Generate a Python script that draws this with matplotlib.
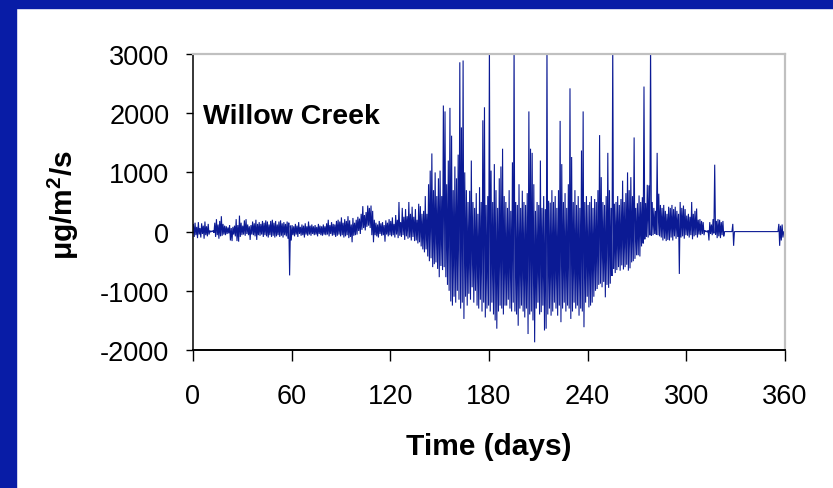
import numpy as np
import matplotlib
matplotlib.use("Agg")
import matplotlib.pyplot as plt
from matplotlib.patches import Rectangle

plt.rcParams["font.family"] = ["Liberation Sans", "DejaVu Sans"]
plt.rcParams["mathtext.fontset"] = "custom"
plt.rcParams["mathtext.bf"] = "Liberation Sans:bold"
plt.rcParams["mathtext.rm"] = "Liberation Sans"
plt.rcParams["axes.unicode_minus"] = False

# ── Data: daily max (hi) and min (lo) flux ────────────────────────────────
DAY_START = 0
FLUX_HI = [
    120, 150, 80, 160, 60, 140, 100, 170, 90, 130,          # 0
    20, 10, 20, 150, 210, 120, 180, 260, 130, 100,          # 10
    90, 70, 110, 60, 80, 100, 210, 110, 270, 150,           # 20
    100, 190, 210, 120, 90, 110, 170, 140, 200, 130,        # 30
    160, 130, 180, 150, 190, 170, 120, 180, 200, 150,       # 40
    180, 120, 170, 190, 140, 160, 130, 170, 150, 100,       # 50
    110, 90, 130, 100, 160, 80, 120, 100, 140, 90,          # 60
    170, 100, 120, 90, 110, 80, 130, 100, 90, 120,          # 70
    90, 140, 200, 110, 160, 130, 120, 180, 200, 170,        # 80
    240, 150, 210, 180, 260, 190, 120, 230, 150, 200,       # 90
    250, 220, 300, 430, 280, 330, 440, 400, 440, 350,       # 100
    200, 150, 120, 180, 140, 160, 110, 190, 150, 210,       # 110
    180, 240, 130, 280, 200, 500, 160, 400, 250, 380,       # 120
    260, 500, 300, 420, 250, 380, 200, 470, 430, 300,       # 130
    350, 600, 300, 800, 1030, 1320, 700, 1000, 600, 900,    # 140
    1030, 600, 2130, 2030, 800, 1200, 2090, 1620, 700, 1100,  # 150
    900, 1300, 2860, 1760, 2890, 1000, 700, 500, 690, 1200,   # 160
    500, 400, 650, 300, 750, 500, 1880, 2100, 450, 600,       # 170
    3200, 1030, 500, 1140, 700, 400, 900, 1100, 1400, 600,    # 180
    500, 400, 700, 350, 1170, 3200, 500, 450, 800, 400,       # 190
    690, 500, 450, 650, 2030, 1400, 1330, 800, 350, 500,      # 200
    450, 1200, 400, 600, 380, 3200, 520, 490, 700, 500,       # 210
    600, 400, 700, 1870, 1140, 500, 650, 400, 800, 2420,      # 220
    1260, 500, 700, 450, 600, 400, 1370, 2030, 500, 600,      # 230
    450, 500, 600, 400, 550, 500, 700, 1630, 920, 500,        # 240
    450, 600, 1330, 700, 400, 3200, 470, 500, 600, 450,       # 250
    550, 860, 500, 650, 1000, 700, 920, 600, 1590, 400,       # 260
    480, 610, 500, 580, 2450, 480, 790, 780, 3200, 500,       # 270
    400, 350, 1330, 640, 450, 400, 450, 350, 300, 420,        # 280
    400, 450, 380, 420, 350, 300, 500, 400, 440, 380,         # 290
    270, 300, 250, 500, 300, 350, 390, 200, 210, 180,         # 300
    160, 20, 10, 20, 160, 120, 210, 1130, 180, 210,           # 310
    200, 160, 180, 0, 0, 0, 0, 0, 130, 0,                     # 320
    0, 0, 0, 0, 0, 0, 0, 0, 0, 0,                             # 330
    0, 0, 0, 0, 0, 0, 0, 0, 0, 0,                             # 340
    0, 0, 0, 0, 0, 0, 130, 100, 120, 0,                       # 350
]
FLUX_LO = [
    -90, -60, -110, -50, -100, -40, -120, -60, -80, -50,      # 0
    -10, 0, -20, -90, -60, -120, -80, -70, -50, -60,          # 10
    -40, -30, -150, -160, -50, -80, -160, -170, -90, -60,     # 20
    -50, -70, -40, -60, -140, -50, -60, -80, -140, -60,       # 30
    -70, -50, -90, -60, -80, -100, -60, -90, -70, -100,       # 40
    -80, -60, -90, -70, -100, -60, -80, -120, -740, -150,     # 50
    -60, -80, -50, -90, -40, -70, -60, -100, -50, -70,        # 60
    -50, -70, -40, -60, -50, -80, -40, -60, -70, -50,         # 70
    -60, -50, -80, -40, -70, -60, -90, -70, -50, -80,         # 80
    -60, -100, -80, -60, -110, -90, -180, -70, -60, -50,      # 90
    10, -40, 30, 60, 20, 80, 100, 60, -60, -180,              # 100
    -60, -80, -100, -40, -70, -60, -170, -50, -80, -60,       # 110
    -80, -60, -100, -50, -110, -70, -90, -60, -140, -80,      # 120
    -120, -100, -150, -90, -160, -150, -200, -180, -250, -300,    # 130
    -350, -300, -420, -500, -450, -600, -550, -520, -630, -770,   # 140
    -580, -650, -600, -770, -900, -1000, -1180, -1250, -1100, -1200,  # 150
    -1000, -1150, -1300, -1200, -1475, -1100, -1250, -1050, -1150, -940,  # 160
    -1200, -1000, -1250, -1300, -1150, -1350, -1200, -1450, -1300, -1250,  # 170
    -1350, -1200, -1400, -1500, -1640, -1350, -1250, -1300, -1400, -1250,  # 180
    -1250, -1150, -1300, -1350, -1200, -1350, -1400, -1590, -1300, -1250,  # 190
    -1350, -1450, -1300, -1730, -1400, -1350, -1500, -1870, -1300, -1200,  # 200
    -1400, -1360, -1250, -1670, -1640, -1400, -1300, -1420, -1350, -1200,  # 210
    -1300, -1420, -1250, -1530, -1300, -1200, -1350, -1250, -1300, -1475,  # 220
    -1350, -1200, -1300, -1250, -1420, -1300, -1350, -1615, -1200, -1100,  # 230
    -1280, -1250, -1200, -1100, -1000, -970, -900, -880, -940, -850,       # 240
    -1110, -900, -950, -880, -750, -630, -700, -650, -600, -660,           # 250
    -570, -640, -600, -560, -660, -620, -520, -500, -460, -400,            # 260
    -400, -420, -250, -200, -130, -90, -100, -60, -70, -60,                # 270
    -40, -50, -60, -80, -100, -150, -120, -160, -140, -150,                # 280
    -100, -150, -80, -120, -90, -715, -100, -80, -120, -60,                # 290
    -70, -100, -60, -130, -80, -60, -100, -50, -60, -40,                   # 300
    -60, 0, -10, -150, -40, -60, -30, -50, -110, -80,                      # 310
    -110, -60, -80, 0, 0, 0, 0, 0, -240, 0,                                # 320
    0, 0, 0, 0, 0, 0, 0, 0, 0, 0,                                          # 330
    0, 0, 0, 0, 0, 0, 0, 0, 0, 0,                                          # 340
    0, 0, 0, 0, 0, 0, -240, -150, -100, 0,                                 # 350
]
X_TICKS = [0, 60, 120, 180, 240, 300, 360]
Y_TICKS = [-2000, -1000, 0, 1000, 2000, 3000]
SITE = "Willow Creek"

# interleave daily max / min so each day draws one up-down stroke
days = DAY_START + np.arange(len(FLUX_HI))
t = np.column_stack([days + 0.25, days + 0.75]).ravel()
flux = np.column_stack([FLUX_HI, FLUX_LO]).ravel()

W, H = 833, 489
fig = plt.figure(figsize=(W / 100, H / 100), dpi=100)
fig.patch.set_facecolor("white")

# blue slide frame (left and top strips)
BORDER = "#081ca6"
fig.patches.append(Rectangle((0, 0), 16 / W, 1, transform=fig.transFigure,
                             color=BORDER, zorder=0))
fig.patches.append(Rectangle((0, 1 - 9 / H), 1, 9 / H, transform=fig.transFigure,
                             color=BORDER, zorder=0))

ax = fig.add_axes([193 / W, 1 - 351 / H, 592 / W, 296 / H])
ax.plot(t, flux, color="#0b1a94", linewidth=0.8, solid_joinstyle="miter")

ax.set_xlim(0, 360)
ax.set_ylim(-2000, 3000)
ax.set_xticks(X_TICKS)
ax.set_yticks(Y_TICKS)
ax.tick_params(axis="y", direction="out", length=5, width=1, pad=12,
               labelsize=19.5, colors="black")
ax.tick_params(axis="x", direction="out", length=8, width=1, pad=16,
               labelsize=19.5, colors="black")

for sp in ("top", "right"):
    ax.spines[sp].set_color("#c0c0c0")
    ax.spines[sp].set_linewidth(1.6)
ax.spines["left"].set_color("black")
ax.spines["left"].set_linewidth(1.1)
ax.spines["bottom"].set_color("black")
ax.spines["bottom"].set_linewidth(1.4)

ax.text(6, 1950, SITE, fontsize=20.5, fontweight="bold", ha="left", va="center")

fig.text(489 / W, 1 - 447 / H, "Time (days)", fontsize=21.5, fontweight="bold",
         ha="center", va="center")
fig.text(63 / W, 1 - 205 / H, r"μg/m$^{\mathbf{2}}$/s", fontsize=21.5,
         fontweight="bold", rotation=90, ha="center", va="center")

fig.savefig("out.png", dpi=100, facecolor="white")
plt.close(fig)
